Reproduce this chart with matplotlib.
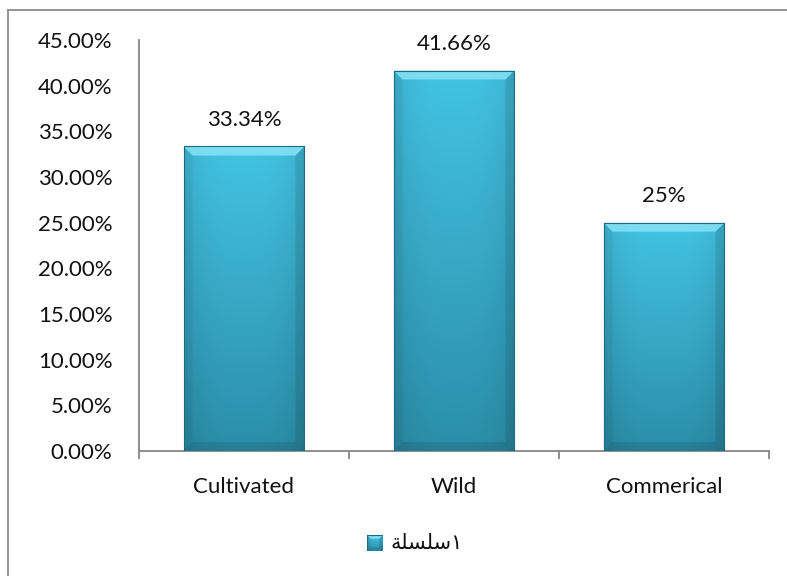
import numpy as np
import matplotlib
matplotlib.use("Agg")
import matplotlib.pyplot as plt
from matplotlib.patches import Polygon, Rectangle
from matplotlib.colors import to_rgb
from matplotlib.lines import Line2D

# ---- data ----
categories = ["Cultivated", "Wild", "Commerical"]
values = [33.34, 41.66, 25.0]
value_labels = ["33.34%", "41.66%", "25%"]
y_ticks = [0, 5, 10, 15, 20, 25, 30, 35, 40, 45]
# series name "سلسلة١" written with joined presentation forms (visual order)
series_name = "\uFE94\uFEE0\uFEB4\uFEE0\uFEB3\u0661"

W, H = 787, 576
fig = plt.figure(figsize=(W / 100, H / 100), dpi=100)
fig.patch.set_facecolor("white")

TOP = np.array(to_rgb("#43C3E3"))
BOT = np.array(to_rgb("#2B8EA9"))
EDGE = "#1E6A80"
TXT = "#111111"


def bevel_bar(ax, x0, x1, y0, y1, dx, dy, z=3):
    """Draw a bar with a vertical gradient face and bevelled edges."""
    ny, nx = 120, 60
    t = np.linspace(0, 1, ny)[:, None, None]
    u = np.linspace(0, 1, nx)[None, :, None]
    img = BOT + t * (TOP - BOT)
    img = img * (1 - 0.10 * np.abs(2 * u - 1) ** 3)
    img = np.clip(img, 0, 1)
    im = ax.imshow(img, extent=[x0, x1, y0, y1], origin="lower",
                   aspect="auto", interpolation="bilinear", zorder=z)
    clip = Rectangle((x0, y0), x1 - x0, y1 - y0, transform=ax.transData)
    im.set_clip_path(clip)
    # top bevel (highlight)
    ax.add_patch(Polygon([(x0, y1), (x1, y1), (x1 - dx, y1 - dy), (x0 + dx, y1 - dy)],
                         closed=True, facecolor="#86E2F6", edgecolor="none",
                         alpha=0.85, zorder=z + 0.1))
    # left bevel
    ax.add_patch(Polygon([(x0, y0), (x0, y1), (x0 + dx, y1 - dy), (x0 + dx, y0 + dy)],
                         closed=True, facecolor="black", edgecolor="none",
                         alpha=0.04, zorder=z + 0.1))
    # right bevel
    ax.add_patch(Polygon([(x1, y0), (x1, y1), (x1 - dx, y1 - dy), (x1 - dx, y0 + dy)],
                         closed=True, facecolor="black", edgecolor="none",
                         alpha=0.09, zorder=z + 0.1))
    # bottom bevel
    ax.add_patch(Polygon([(x0, y0), (x1, y0), (x1 - dx, y0 + dy), (x0 + dx, y0 + dy)],
                         closed=True, facecolor="black", edgecolor="none",
                         alpha=0.10, zorder=z + 0.1))
    ax.add_patch(Rectangle((x0, y0), x1 - x0, y1 - y0, facecolor="none",
                           edgecolor=EDGE, lw=0.8, zorder=z + 0.2))


# ---- main axes ----
ax = fig.add_axes([139 / W, 125 / H, 630 / W, 411 / H])
ax.set_xlim(-0.5, len(categories) - 0.5)
ax.set_ylim(0, 45)

bar_w = 0.576
px_x = 630 / len(categories)       # pixels per category
px_y = 411 / 45.0                  # pixels per percent
bdx = 9 / px_x
bdy = 9 / px_y
for i, v in enumerate(values):
    bevel_bar(ax, i - bar_w / 2, i + bar_w / 2, 0, v, bdx, bdy)
    ax.annotate(value_labels[i], (i, v), xytext=(0, 12), textcoords="offset points",
                ha="center", va="bottom", fontsize=16, family="Lato", color=TXT)

for s in ["top", "right"]:
    ax.spines[s].set_visible(False)
for s in ["left", "bottom"]:
    ax.spines[s].set_color("#868686")
    ax.spines[s].set_linewidth(1.3)

ax.set_yticks(y_ticks)
ax.set_yticklabels([f"{t:.2f}%" for t in y_ticks], fontsize=16, family="Lato", color=TXT)
ax.tick_params(axis="y", length=0, pad=19)

ax.set_xticks(np.arange(-0.5, len(categories)))
ax.set_xticklabels([])
ax.tick_params(axis="x", which="major", length=6, width=1.3, color="#868686", direction="out")
ax.set_xticks(np.arange(len(categories)), minor=True)
ax.set_xticklabels(categories, minor=True, fontsize=16, family="Lato", color=TXT)
ax.tick_params(axis="x", which="minor", length=0, pad=19)

# ---- legend ----
lax = fig.add_axes([367 / W, (H - 551) / H, 16 / W, 16 / H])
lax.set_xlim(0, 1)
lax.set_ylim(0, 1)
lax.axis("off")
bevel_bar(lax, 0.02, 0.98, 0.02, 0.98, 0.22, 0.22)
fig.text(390 / W, (H - 543) / H, series_name, ha="left", va="center",
         fontsize=15, family=["DejaVu Sans"], color=TXT)

# ---- chart frame ----
fig.add_artist(Line2D([8 / W, 8 / W], [0, (H - 10) / H], transform=fig.transFigure,
                      color="#8c8c8c", lw=1.3))
fig.add_artist(Line2D([8 / W, 1], [(H - 10) / H, (H - 10) / H], transform=fig.transFigure,
                      color="#8c8c8c", lw=1.3))

fig.savefig("out.png", dpi=100)
